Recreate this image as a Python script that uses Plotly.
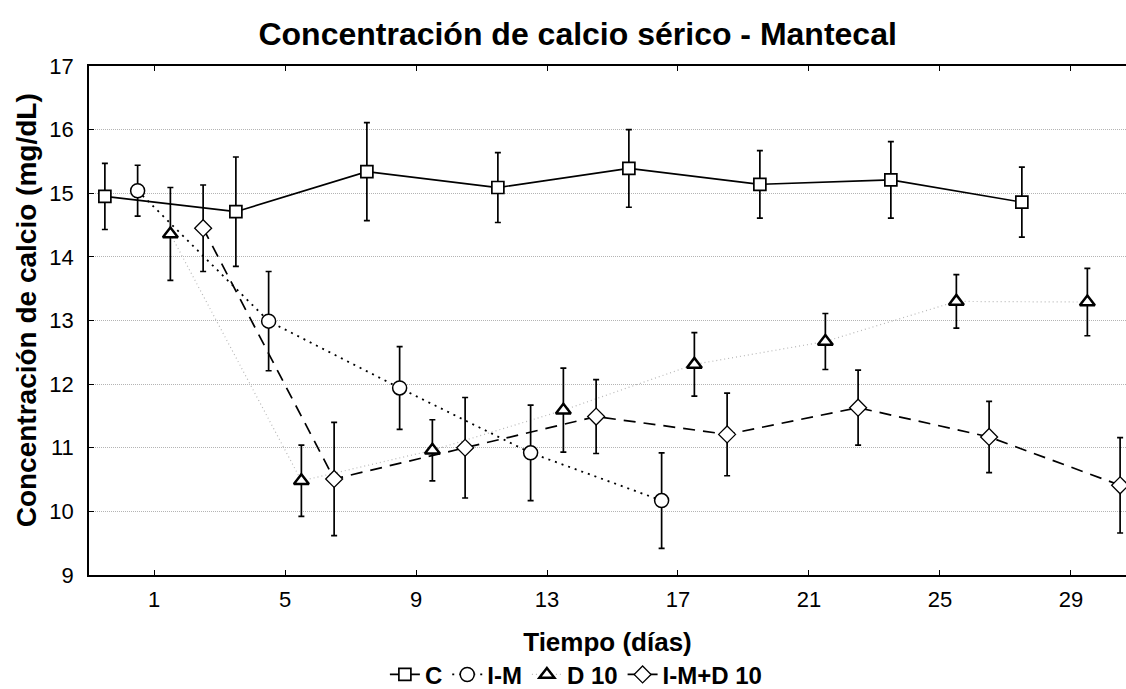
import plotly.graph_objects as go

# Data
x_c = [-0.5, 3.5, 7.5, 11.5, 15.5, 19.5, 23.5, 27.5]
y_c = [14.95, 14.71, 15.34, 15.09, 15.39, 15.14, 15.21, 14.86]
e_c = [0.52, 0.86, 0.77, 0.55, 0.61, 0.53, 0.60, 0.55]

x_im = [0.5, 4.5, 8.5, 12.5, 16.5]
y_im = [15.04, 12.99, 11.94, 10.92, 10.17]
e_im = [0.40, 0.78, 0.65, 0.75, 0.75]

x_d10 = [1.5, 5.5, 9.5, 13.5, 17.5, 21.5, 25.5, 29.5]
y_d10 = [14.36, 10.48, 10.96, 11.59, 12.31, 12.67, 13.30, 13.29]
e_d10 = [0.73, 0.56, 0.48, 0.66, 0.50, 0.44, 0.42, 0.53]

x_imd = [2.5, 6.5, 10.5, 14.5, 18.5, 22.5, 26.5, 30.5]
y_imd = [14.45, 10.51, 11.00, 11.49, 11.21, 11.63, 11.17, 10.41]
e_imd = [0.68, 0.89, 0.79, 0.58, 0.65, 0.59, 0.56, 0.75]

x_ticks = [1, 5, 9, 13, 17, 21, 25, 29]
y_ticks = [9, 10, 11, 12, 13, 14, 15, 16, 17]

FONT = "Liberation Sans, Arial, sans-serif"

def err(e):
    return dict(type="data", array=e, visible=True, color="black", thickness=1.7, width=3)

fig = go.Figure()
fig.add_trace(go.Scatter(
    x=x_d10, y=y_d10, name="D 10", mode="lines+markers",
    line=dict(color="#b8b8b8", width=1.2, dash="1px,3px"),
    marker=dict(symbol="triangle-up", size=13, color="white", line=dict(color="black", width=2.5)),
    error_y=err(e_d10), legendrank=3))
fig.add_trace(go.Scatter(
    x=x_im, y=y_im, name="I-M", mode="lines+markers",
    line=dict(color="black", width=1.8, dash="2px,5px"),
    marker=dict(symbol="circle", size=14, color="white", line=dict(color="black", width=1.5)),
    error_y=err(e_im), legendrank=2))
fig.add_trace(go.Scatter(
    x=x_imd, y=y_imd, name="I-M+D 10", mode="lines+markers",
    line=dict(color="black", width=1.7, dash="12px,8px"),
    marker=dict(symbol="diamond", size=13, color="white", line=dict(color="black", width=1.3)),
    error_y=err(e_imd), legendrank=4))
fig.add_trace(go.Scatter(
    x=x_c, y=y_c, name="C", mode="lines+markers",
    line=dict(color="black", width=1.7),
    marker=dict(symbol="square", size=12, color="white", line=dict(color="black", width=1.7)),
    error_y=err(e_c), legendrank=1))

fig.update_layout(
    width=1126, height=689,
    paper_bgcolor="white", plot_bgcolor="white",
    margin=dict(l=89, r=0, t=66, b=114, autoexpand=False),
    font=dict(family=FONT, color="black"),
    title=dict(text="<b>Concentración de calcio sérico - Mantecal</b>",
               x=0.513, xanchor="center", y=0.951, yanchor="middle",
               font=dict(size=32, family=FONT, color="black")),
    showlegend=True,
    legend=dict(orientation="h", x=0.47, xanchor="center", y=-0.152, yanchor="top",
                font=dict(size=24, family=FONT, color="black", weight="bold"),
                itemwidth=30, tracegroupgap=0, bgcolor="rgba(0,0,0,0)"),
    annotations=[dict(
        text="<b>Concentración de calcio (mg/dL)</b>", textangle=-90,
        xref="paper", yref="paper", x=0, y=0.52, xanchor="center", yanchor="middle",
        xshift=-63, showarrow=False,
        font=dict(size=28, family=FONT, color="black"))],
)
fig.update_xaxes(
    range=[-0.985, 30.68], tickvals=x_ticks, ticktext=[str(t) for t in x_ticks],
    ticks="inside", ticklen=5, tickwidth=1.2, tickcolor="black",
    showline=True, linecolor="black", linewidth=1.5, mirror="ticks",
    showgrid=False, zeroline=False, ticklabelstandoff=4,
    tickfont=dict(size=22, family=FONT, color="black"),
    title=dict(text="<b>Tiempo (días)</b>", standoff=22,
               font=dict(size=26, family=FONT, color="black")))
fig.update_yaxes(
    range=[9, 17], tickvals=y_ticks,
    ticks="inside", ticklen=5, tickwidth=1.2, tickcolor="black",
    showline=True, linecolor="black", linewidth=1.5,
    showgrid=True, gridcolor="#b4b4b4", griddash="1px,1px", gridwidth=1,
    zeroline=False, ticklabelstandoff=9,
    tickfont=dict(size=22, family=FONT, color="black"))

fig.write_html("out.html")
